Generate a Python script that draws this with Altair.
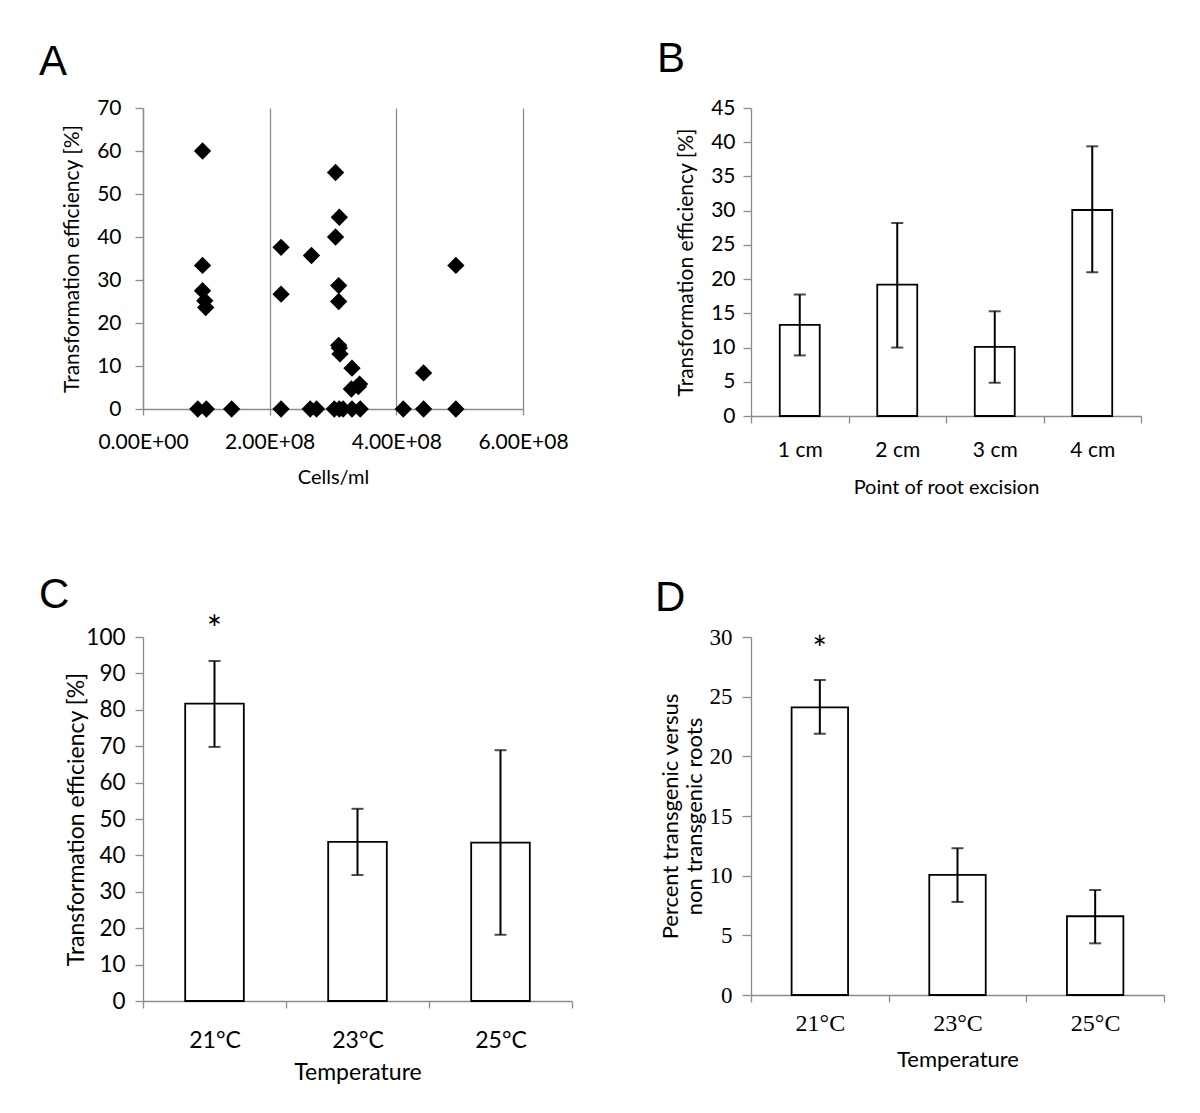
import altair as alt
import pandas as pd

# ---------------- Panel A data ----------------
cells_ml = [0.94e8, 0.94e8, 0.94e8, 0.975e8, 0.99e8, 0.865e8, 1.0e8, 1.40e8,
            2.18e8, 2.18e8, 2.18e8,
            2.66e8, 2.64e8, 2.74e8,
            3.04e8, 3.10e8, 3.04e8, 3.09e8, 3.09e8, 3.09e8, 3.10e8, 3.11e8,
            3.30e8, 3.29e8, 3.42e8, 3.40e8,
            3.02e8, 3.10e8, 3.16e8, 3.30e8, 3.43e8,
            4.11e8, 4.43e8, 4.43e8, 4.94e8, 4.94e8]
eff_a = [60.0, 33.4, 27.5, 25.2, 23.6, 0, 0, 0,
         37.6, 26.7, 0,
         35.7, 0, 0,
         55.0, 44.6, 40.0, 28.7, 25.0, 14.8, 14.2, 12.8,
         9.5, 4.65, 5.8, 5.2,
         0, 0, 0, 0, 0,
         0, 8.4, 0, 33.4, 0]
a_x_ticks = [0, 2e8, 4e8, 6e8]
a_x_tick_labels = ["0.00E+00", "2.00E+08", "4.00E+08", "6.00E+08"]

# ---------------- Panel B data ----------------
b_cats = ["1 cm", "2 cm", "3 cm", "4 cm"]
b_mean = [13.3, 19.2, 10.1, 30.1]
b_lo = [8.85, 10.0, 4.86, 21.0]
b_hi = [17.75, 28.2, 15.3, 39.4]

# ---------------- Panel C data ----------------
c_cats = ["21°C", "23°C", "25°C"]
c_mean = [81.7, 43.7, 43.5]
c_lo = [69.8, 34.6, 18.2]
c_hi = [93.4, 52.8, 68.9]
c_star = [104.0]

# ---------------- Panel D data ----------------
d_cats = ["21°C", "23°C", "25°C"]
d_mean = [24.1, 10.06, 6.6]
d_lo = [21.9, 7.8, 4.33]
d_hi = [26.4, 12.3, 8.8]
d_star = [29.6]

SANS = "Lato"
SERIF = "Liberation Serif"
LETTER = "Liberation Sans"
GREY = "#8c8c8c"


def letter(ch, dx, dy):
    return alt.Chart(pd.DataFrame({"t": [ch]})).mark_text(
        font=LETTER, fontSize=42, align="left", baseline="top", color="black"
    ).encode(x=alt.value(dx), y=alt.value(dy), text="t:N")


# ---------------- Panel A ----------------
dfa = pd.DataFrame({"cells": cells_ml, "eff": eff_a})
label_map = "{" + ",".join(f"'{int(v)}':'{l}'" for v, l in zip(a_x_ticks, a_x_tick_labels)) + "}"
pa_pts = alt.Chart(dfa).mark_point(
    shape="diamond", filled=True, size=300, color="black", opacity=1
).encode(
    x=alt.X("cells:Q", title="Cells/ml",
            scale=alt.Scale(domain=[0, 6e8], nice=False, zero=True),
            axis=alt.Axis(values=a_x_ticks, labelExpr=label_map + "[toString(datum.value)]",
                          grid=True, gridColor=GREY, gridWidth=1.3,
                          domainColor=GREY, domainWidth=1.3, tickColor=GREY, tickWidth=1.3,
                          tickSize=6, labelPadding=16, titlePadding=15,
                          labelOverlap=False, labelFlush=False,
                          labelFont=SANS, labelFontSize=21, titleFont=SANS, titleFontSize=20,
                          titleFontWeight="normal", labelColor="black", titleColor="black")),
    y=alt.Y("eff:Q", title="Transformation efficiency [%]",
            scale=alt.Scale(domain=[0, 70], nice=False),
            axis=alt.Axis(values=list(range(0, 71, 10)), grid=False,
                          domainColor=GREY, domainWidth=1.3, tickColor=GREY, tickWidth=1.3,
                          tickSize=8, labelPadding=14, titlePadding=14,
                          labelOverlap=False, labelFlush=False,
                          labelFont=SANS, labelFontSize=21, titleFont=SANS, titleFontSize=21,
                          titleFontWeight="normal", labelColor="black", titleColor="black")),
)
panel_a = alt.layer(pa_pts, letter("A", -104, -66)).properties(width=380, height=301)


# ---------------- bar panel helper ----------------
def bar_panel(cats, mean, lo, hi, ymax, ystep, ytitle, xtitle, tick_font,
              ylab_size, xlab_size, ytitle_size, xtitle_size,
              lab_pad_x, title_pad_x, lab_pad_y, title_pad_y, ytick_size=8):
    df = pd.DataFrame({"cat": cats, "mean": mean, "lo": lo, "hi": hi})
    xscale = alt.Scale(paddingInner=0, paddingOuter=0)
    xaxis = alt.Axis(labelAngle=0, tickBand="extent", domainColor=GREY, domainWidth=1.3,
                     tickColor=GREY, tickWidth=1.3, tickSize=7,
                     labelPadding=lab_pad_x, titlePadding=title_pad_x,
                     labelFont=tick_font, labelFontSize=xlab_size,
                     titleFont=SANS, titleFontSize=xtitle_size, titleFontWeight="normal",
                     labelColor="black", titleColor="black")
    yscale = alt.Scale(domain=[0, ymax], nice=False)
    yvals = [v for v in range(0, ymax + 1, ystep)]
    yaxis = alt.Axis(values=yvals, tickCount=len(yvals), grid=False,
                     domainColor=GREY, domainWidth=1.3, tickColor=GREY, tickWidth=1.3,
                     tickSize=ytick_size, labelOverlap=False, labelFlush=False,
                     labelPadding=lab_pad_y, titlePadding=title_pad_y,
                     labelFont=tick_font, labelFontSize=ylab_size,
                     titleFont=SANS, titleFontSize=ytitle_size, titleFontWeight="normal",
                     labelColor="black", titleColor="black")

    def X():
        return alt.X("cat:N", sort=cats, title=xtitle, scale=xscale, axis=xaxis)

    def Y(field):
        return alt.Y(field, title=ytitle, scale=yscale, axis=yaxis)

    bars = alt.Chart(df).mark_bar(
        width={"band": 0.41}, fill="white", stroke="black", strokeWidth=1.8
    ).encode(x=X(), y=Y("mean:Q"))
    rule = alt.Chart(df).mark_rule(color="black", strokeWidth=2).encode(
        x=X(), y=Y("lo:Q"), y2="hi:Q")
    t_lo = alt.Chart(df).mark_tick(color="black", thickness=2, size=12).encode(
        x=X(), y=Y("lo:Q"))
    t_hi = alt.Chart(df).mark_tick(color="black", thickness=2, size=12).encode(
        x=X(), y=Y("hi:Q"))
    return [bars, rule, t_lo, t_hi], X, Y


layers_b, _, _ = bar_panel(b_cats, b_mean, b_lo, b_hi, 45, 5,
                           "Transformation efficiency [%]", "Point of root excision", SANS,
                           21, 21, 21, 20, 16, 17, 8, 14)
panel_b = alt.layer(*layers_b, letter("B", -94, -69)).properties(width=390, height=308)

layers_c, Xc, Yc = bar_panel(c_cats, c_mean, c_lo, c_hi, 100, 10,
                             "Transformation efficiency [%]", "Temperature", SANS,
                             22.5, 23, 23, 23, 21, 9, 10, -3)
star_c = alt.Chart(pd.DataFrame({"cat": [c_cats[0]], "v": c_star, "s": ["*"]})).mark_text(
    font=SANS, fontSize=36, baseline="middle", color="black", dy=9
).encode(x=Xc(), y=Yc("v:Q"), text="s:N")
panel_c = alt.layer(*layers_c, star_c, letter("C", -104, -62)).properties(width=429, height=364)

layers_d, Xd, Yd = bar_panel(d_cats, d_mean, d_lo, d_hi, 30, 5,
                             ["Percent transgenic versus", "non transgenic roots"], "Temperature",
                             SERIF, 23, 24, 22, 22, 9, 14, 10, 3, ytick_size=9)
star_d = alt.Chart(pd.DataFrame({"cat": [d_cats[0]], "v": d_star, "s": ["*"]})).mark_text(
    font=SANS, fontSize=34, baseline="middle", color="black", dy=9
).encode(x=Xd(), y=Yd("v:Q"), text="s:N")
panel_d = alt.layer(*layers_d, star_d, letter("D", -96, -59)).properties(width=413, height=358)

chart = alt.concat(
    panel_a, panel_b, panel_c, panel_d, columns=2,
    spacing={"row": 221, "column": 179}, bounds="flush", align="each"
).resolve_scale(x="independent", y="independent").configure_view(stroke=None).properties(
    padding={"left": 31, "top": 30, "right": 10, "bottom": 10}, background="white"
)

chart.save("out.html", embed_options={"renderer": "svg", "actions": False})
